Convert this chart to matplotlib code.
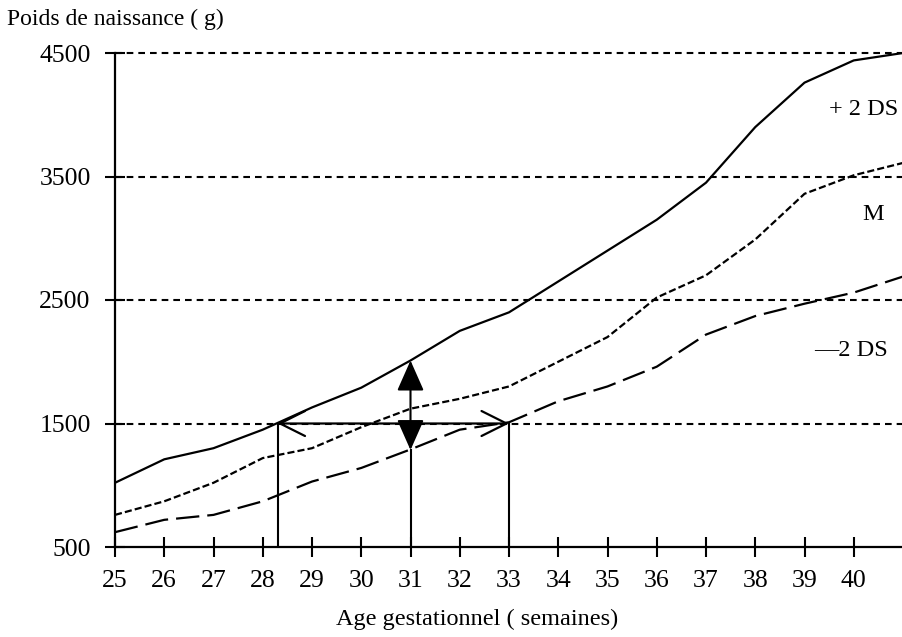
import matplotlib
matplotlib.use("Agg")
import matplotlib.pyplot as plt

# ---- data ----
weeks = [25, 26, 27, 28, 29, 30, 31, 32, 33, 34, 35, 36, 37, 38, 39, 40, 41]
plus2ds = [1020, 1210, 1300, 1450, 1630, 1790, 2010, 2250, 2400, 2650, 2900, 3150, 3450, 3900, 4260, 4440, 4500]
mean_m = [760, 870, 1020, 1220, 1300, 1470, 1620, 1700, 1800, 2000, 2200, 2520, 2700, 2990, 3360, 3510, 3610]
minus2ds = [620, 720, 760, 870, 1030, 1140, 1290, 1450, 1510, 1680, 1800, 1960, 2220, 2370, 2470, 2560, 2690]

xticks = list(range(25, 41))
yticks = [500, 1500, 2500, 3500, 4500]
grid_levels = [1500, 2500, 3500, 4500]

# annotation values
w_left, w_mid, w_right = 28.3, 31, 33
w_level = 1500
mid_low, mid_high = 1285, 2010

curve_labels = [("+ 2 DS", 40.2, 4040), ("M", 40.4, 3190), ("\u20142 DS", 39.95, 2095)]

plt.rcParams['font.family'] = ['Liberation Serif', 'DejaVu Serif']

fig = plt.figure(figsize=(9.03, 6.37), dpi=100)
ax = fig.add_axes([115/903, 1 - 547/637, 1 - 115/903, (547 - 53)/637])
ax.set_xlim(25, 41)
ax.set_ylim(500, 4500)

# gridlines
for g in grid_levels:
    ax.plot([25, 41], [g, g], color='black', lw=1.5, linestyle=(0, (3.2, 2.4)), clip_on=False)

ax.plot(weeks, plus2ds, color='black', lw=1.6, solid_joinstyle='miter')
ax.plot(weeks, mean_m, color='black', lw=1.6, linestyle=(0, (3.2, 1.4)))
ax.plot(weeks, minus2ds, color='black', lw=1.6, linestyle=(0, (10.5, 3.6)))

# vertical guide lines
ax.plot([w_left, w_left], [500, w_level], color='black', lw=1.5)
ax.plot([w_right, w_right], [500, w_level], color='black', lw=1.5)
ax.plot([w_mid, w_mid], [500, mid_low], color='black', lw=1.5)

# horizontal double open arrow
ax.annotate('', xy=(w_right, w_level), xytext=(w_left, w_level),
            arrowprops=dict(arrowstyle='<->,head_length=0.9,head_width=0.45',
                            mutation_scale=20, lw=1.6, color='black',
                            shrinkA=0, shrinkB=0))
# vertical double filled arrow
ax.annotate('', xy=(w_mid, mid_high), xytext=(w_mid, mid_low),
            arrowprops=dict(arrowstyle='<|-|>,head_length=0.95,head_width=0.42',
                            mutation_scale=20, lw=1.5, color='black',
                            shrinkA=0, shrinkB=0))

for txt, x, y in curve_labels:
    ax.text(x, y, txt, fontsize=17.5, ha='center', va='center')

for s in ['top', 'right']:
    ax.spines[s].set_visible(False)
for s in ['left', 'bottom']:
    ax.spines[s].set_linewidth(1.6)

ax.set_xticks(xticks)
ax.set_xticklabels([str(t) for t in xticks])
ax.set_yticks(yticks)
ax.set_yticklabels([str(t) for t in yticks])
ax.tick_params(axis='both', direction='inout', length=15, width=1.5, labelsize=18.5)
ax.tick_params(axis='x', pad=9)
ax.tick_params(axis='y', pad=10)

fig.text(7/903, 1 - 19/637, "Poids de naissance ( g)", fontsize=17, ha='left', va='center')
fig.text(477/903, 1 - 619/637, "Age gestationnel ( semaines)", fontsize=17.5, ha='center', va='center')

fig.savefig('out.png', dpi=100)
